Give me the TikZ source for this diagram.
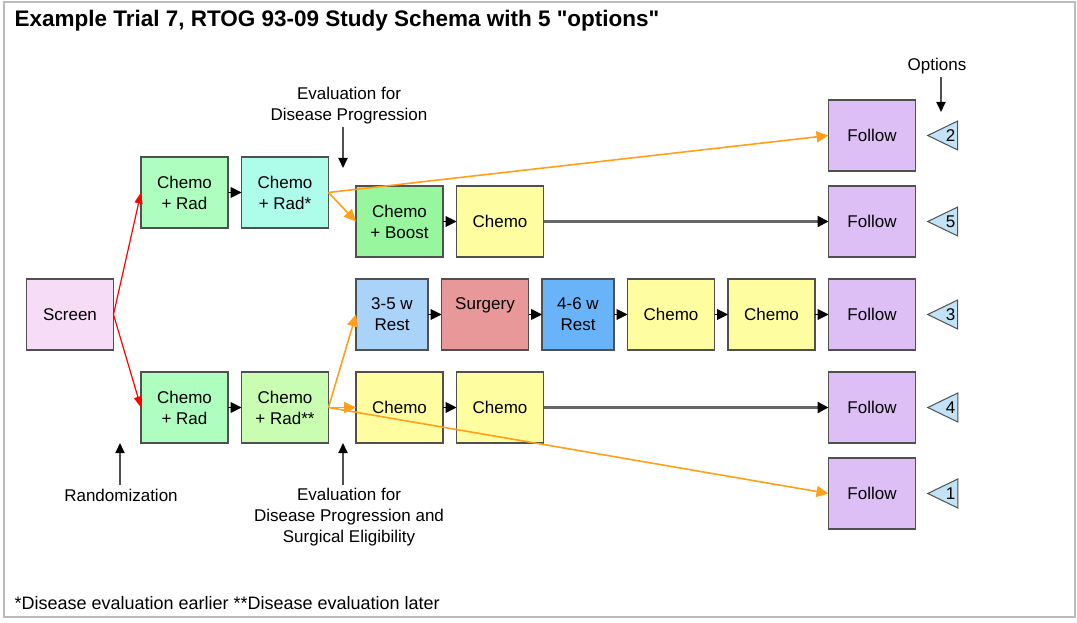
\documentclass[tikz,border=0pt]{standalone}
\usepackage{fontspec}
\setmainfont{Liberation Sans}[Ligatures=TeXOff]
\usetikzlibrary{positioning,arrows.meta,shapes.geometric,calc}

\definecolor{screenc}{HTML}{F7DCF7}
\definecolor{radc}{HTML}{AEFEC0}
\definecolor{radstar}{HTML}{ADFDEA}
\definecolor{radstarstar}{HTML}{C8FDB2}
\definecolor{boostc}{HTML}{98F79E}
\definecolor{chemoc}{HTML}{FEFEA0}
\definecolor{restc}{HTML}{A9D3F9}
\definecolor{surgc}{HTML}{E89898}
\definecolor{restdc}{HTML}{69B4F9}
\definecolor{followc}{HTML}{DDBFF5}
\definecolor{optc}{HTML}{C2E2F5}
\definecolor{routec}{HTML}{FF9F1A}
\definecolor{edgec}{HTML}{505050}
\definecolor{trunkc}{HTML}{666666}
\definecolor{framec}{HTML}{BBBBBB}

\tikzset{
  box/.style={draw=edgec,line width=1.3pt,minimum width=87pt,minimum height=71pt,
    inner sep=0pt,outer sep=0pt,align=center,font=\fontsize{17}{21}\selectfont},
  narrow/.style={box,minimum width=72pt},
  opt/.style={isosceles triangle,shape border rotate=180,isosceles triangle stretches,
    draw=edgec,fill=optc,line width=1pt,minimum width=29pt,minimum height=30pt,
    inner sep=0pt,font=\fontsize{17}{17}\selectfont},
  note/.style={align=center,font=\fontsize{17}{21}\selectfont},
  link/.style={-{Triangle[length=11pt,width=11pt]},line width=1pt},
  trunk/.style={draw=trunkc,line width=2.2pt,-{Triangle[length=11pt,width=11pt,black]}},
  route/.style={draw=routec,line width=1.6pt,-{Triangle[length=12pt,width=11pt]}},
  rand/.style={draw=red,line width=1.2pt,-{Triangle[length=11pt,width=8pt]}},
  pointer/.style={draw=edgec,line width=2pt,-{Triangle[length=10pt,width=9pt,black]}}
}

\begin{document}
\begin{tikzpicture}[x=1pt,y=-1pt,node distance=13.5pt]
  \useasboundingbox (0,0) rectangle (1077,623);
  \draw[framec,line width=2pt] (4,2) rectangle (1075,617);

  \node (title) [anchor=west,font=\bfseries\fontsize{22.5}{27}\selectfont] at (11,21)
    {Example Trial 7, RTOG 93-09 Study Schema with 5 "options"};
  \node (footnote) [anchor=west,font=\fontsize{18}{21}\selectfont] at (11,603)
    {*Disease evaluation earlier **Disease evaluation later};

  \node (screen) [box,fill=screenc] at (70,314.5) {Screen};
  \node (rad1) [box,fill=radc] at (184.5,192.5) {Chemo\\+ Rad};
  \node (radA) [box,fill=radstar,right=of rad1] {Chemo\\+ Rad*};
  \node (rad2) [box,fill=radc] at (184.5,407.5) {Chemo\\+ Rad};
  \node (radB) [box,fill=radstarstar,right=of rad2] {Chemo\\+ Rad**};

  \node (boost) [box,fill=boostc] at (399.5,221.5) {Chemo\\+ Boost};
  \node (chemoB) [box,fill=chemoc,right=of boost] {Chemo};

  \node (rest1) [narrow,fill=restc] at (392,314.5) {3-5 w\\Rest};
  \node (surgery) [box,fill=surgc,right=of rest1] {Surgery\\\phantom{Rest}};
  \node (rest2) [narrow,fill=restdc,right=of surgery] {4-6 w\\Rest};
  \node (chemoC1) [box,fill=chemoc,right=of rest2] {Chemo};
  \node (chemoC2) [box,fill=chemoc,right=of chemoC1] {Chemo};
  \node (follow3) [box,fill=followc,right=of chemoC2] {Follow};

  \node (chemoD1) [box,fill=chemoc] at (399.5,407.5) {Chemo};
  \node (chemoD2) [box,fill=chemoc,right=of chemoD1] {Chemo};

  \node (follow2) [box,fill=followc] at (follow3 |- 0,135.5) {Follow};
  \node (follow5) [box,fill=followc] at (follow3 |- chemoB) {Follow};
  \node (follow4) [box,fill=followc] at (follow3 |- chemoD2) {Follow};
  \node (follow1) [box,fill=followc] at (follow3 |- 0,493.5) {Follow};

  \foreach \f/\n in {follow2/2,follow5/5,follow3/3,follow4/4,follow1/1}
    \node (opt\n) [opt] at ($(\f.east)+(35,0)$) {\n};

  \draw[rand] (screen.east) -- (rad1.west);
  \draw[rand] (screen.east) -- (rad2.west);
  \foreach \a/\b in {rad1/radA,rad2/radB,boost/chemoB,chemoD1/chemoD2,rest1/surgery,
      surgery/rest2,rest2/chemoC1,chemoC1/chemoC2,chemoC2/follow3}
    \draw[link] (\a) -- (\b);
  \draw[trunk] (chemoB) -- (follow5);
  \draw[trunk] (chemoD2) -- (follow4);

  \draw[route] (radA.east) -- (follow2.west);
  \draw[route] (radA.east) -- (boost.west);
  \draw[route] (radB.east) -- (rest1.west);
  \draw[route] (radB.east) -- (chemoD1.west);
  \draw[route] (radB.east) -- (follow1.west);

  \node (evalTop) [note] at (349,105.5) {Evaluation for\\Disease Progression};
  \coordinate (evalTopTip) at (343,168);
  \draw[pointer] (evalTop.south -| evalTopTip) -- (evalTopTip);
  \node (options) [note] at (937,66) {Options};
  \coordinate (optionsTip) at (941,112);
  \draw[pointer] (options.south -| optionsTip) -- (optionsTip);
  \node (randomization) [note] at (121,495) {Randomization};
  \coordinate (randTip) at (120,443);
  \draw[pointer] (randomization.north -| randTip) -- (randTip);
  \node (evalBot) [note] at (349,517)
    {Evaluation for\\Disease Progression and\\Surgical Eligibility};
  \coordinate (evalBotTip) at (343,443);
  \draw[pointer] (evalBot.north -| evalBotTip) -- (evalBotTip);
\end{tikzpicture}
\end{document}
